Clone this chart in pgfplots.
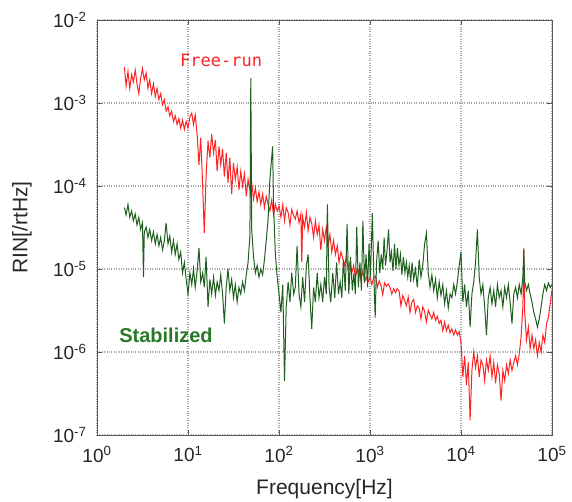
\documentclass[border=0pt]{standalone}
\usepackage{pgfplots}
\pgfplotsset{compat=1.18}
\usepackage{pgfplotstable}
\usepackage{fontspec}
\setmainfont{Liberation Sans}
\newfontfamily\monofont{DejaVu Sans Mono}
\definecolor{myred}{RGB}{255,35,35}
\definecolor{mygreen}{RGB}{30,95,30}
\definecolor{labgreen}{RGB}{40,120,40}
\definecolor{gridgray}{RGB}{165,165,165}

\pgfplotstableread{
f v
2.00 2.7e-3
2.09 1.6e-3
2.19 2.4e-3
2.29 1.5e-3
2.40 2.2e-3
2.51 1.8e-3
2.63 2.5e-3
2.75 1.7e-3
2.88 1.3e-3
3.02 2.0e-3
3.16 2.6e-3
3.31 1.9e-3
3.47 2.3e-3
3.63 1.5e-3
3.80 1.9e-3
3.98 1.3e-3
4.17 1.7e-3
4.37 1.2e-3
4.57 1.5e-3
4.79 1.1e-3
5.01 1.3e-3
5.25 9.5e-4
5.50 1.1e-3
5.75 8.0e-4
6.03 9.0e-4
6.31 7.0e-4
6.61 8.0e-4
6.92 6.0e-4
7.24 7.0e-4
7.59 5.5e-4
7.94 6.5e-4
8.32 5.0e-4
8.71 6.2e-4
9.12 4.8e-4
9.55 6.0e-4
10.0 5.0e-4
10.5 6.8e-4
11.0 7.6e-4
11.5 5.5e-4
12.0 7.2e-4
12.6 4.2e-4
13.2 1.8e-4
13.8 3.8e-4
14.5 1.0e-4
15.1 2.7e-5
15.8 1.3e-4
16.6 3.5e-4
17.4 2.2e-4
18.2 4.2e-4
19.1 2.5e-4
20.0 3.6e-4
20.9 1.5e-4
21.9 3.0e-4
22.9 1.8e-4
24.0 2.8e-4
25.1 1.3e-4
26.3 2.5e-4
27.5 1.1e-4
28.8 2.2e-4
30.2 8.0e-5
31.6 1.9e-4
33.1 1.2e-4
34.7 1.7e-4
36.3 9.0e-5
38.0 1.5e-4
39.8 1.0e-4
41.7 1.4e-4
43.7 7.5e-5
45.7 1.2e-4
47.9 9.0e-5
50.1 1.1e-4
52.5 7.0e-5
55.0 9.5e-5
57.5 6.5e-5
60.3 8.5e-5
63.1 6.0e-5
66.1 8.0e-5
69.2 5.5e-5
72.4 7.5e-5
75.9 6.0e-5
79.4 5.0e-5
83.2 6.8e-5
87.1 4.5e-5
91.2 6.0e-5
95.5 5.0e-5
100 5.8e-5
105 4.2e-5
110 6.0e-5
115 3.8e-5
120 5.5e-5
126 4.8e-5
132 3.4e-5
138 5.2e-5
145 4.4e-5
151 4.0e-5
158 5.0e-5
166 3.6e-5
174 4.6e-5
178 1.2e-5
182 4.2e-5
191 3.2e-5
200 4.8e-5
209 2.9e-5
219 4.2e-5
229 3.5e-5
240 2.4e-5
251 3.8e-5
263 2.6e-5
275 3.4e-5
288 1.7e-5
302 3.0e-5
316 2.2e-5
331 3.2e-5
347 1.9e-5
363 2.6e-5
380 1.6e-5
398 2.2e-5
417 1.5e-5
437 1.9e-5
457 1.2e-5
479 1.6e-5
501 1.35e-5
525 1.1e-5
550 1.4e-5
575 1.0e-5
603 1.2e-5
631 9.0e-6
661 1.1e-5
692 8.0e-6
724 1.0e-5
759 9.0e-6
794 7.5e-6
832 9.5e-6
871 7.0e-6
912 8.0e-6
955 7.0e-6
1000 8.0e-6
1047 6.5e-6
1096 7.8e-6
1148 8.2e-6
1202 6.0e-6
1259 7.2e-6
1318 6.4e-6
1380 4.9e-6
1445 6.8e-6
1514 6.2e-6
1585 6.6e-6
1660 6.0e-6
1738 5.0e-6
1820 5.8e-6
1905 5.2e-6
1995 5.8e-6
2089 5.4e-6
2188 3.6e-6
2291 4.8e-6
2399 4.2e-6
2512 3.6e-6
2630 4.6e-6
2754 3.0e-6
2884 4.0e-6
3020 4.3e-6
3162 3.0e-6
3311 3.6e-6
3467 3.4e-6
3631 2.5e-6
3802 3.5e-6
3981 3.1e-6
4169 2.3e-6
4365 3.2e-6
4571 2.8e-6
4786 2.5e-6
5012 3.0e-6
5248 2.4e-6
5495 2.7e-6
5754 2.2e-6
6026 2.4e-6
6310 1.8e-6
6607 2.3e-6
6918 1.8e-6
7244 2.1e-6
7586 1.7e-6
7943 1.9e-6
8318 1.6e-6
8710 1.85e-6
9120 1.6e-6
9550 1.75e-6
10000 1.3e-6
10470 5.0e-7
10960 9.0e-7
11480 4.0e-7
12020 7.5e-7
12590 1.5e-7
13180 6.0e-7
13800 1.0e-6
14450 6.5e-7
15140 9.0e-7
15850 5.0e-7
16600 8.0e-7
17380 7.0e-7
18200 4.5e-7
19050 8.0e-7
19950 6.0e-7
20890 9.0e-7
21880 5.0e-7
22910 7.5e-7
23990 4.2e-7
25120 7.0e-7
26300 5.5e-7
27540 2.6e-7
28840 6.0e-7
30200 4.5e-7
31620 7.0e-7
33110 5.5e-7
34670 8.0e-7
36310 6.0e-7
38020 7.5e-7
39810 9.0e-7
41690 7.0e-7
43650 9.5e-7
45710 1.5e-6
47860 3.5e-6
48980 1.8e-5
50120 3.0e-6
52480 1.4e-6
54950 2.0e-6
57540 1.1e-6
60260 1.6e-6
63100 1.1e-6
66070 1.4e-6
69180 9.0e-7
72440 1.3e-6
75860 1.0e-6
79430 1.6e-6
83180 1.3e-6
87100 2.2e-6
91200 2.6e-6
95500 3.8e-6
100000 5.6e-6
}\freerun

\pgfplotstableread{
f v
2.00 5.5e-5
2.09 4.5e-5
2.19 6.0e-5
2.29 4.2e-5
2.40 5.0e-5
2.51 3.8e-5
2.63 4.6e-5
2.75 3.4e-5
2.88 4.2e-5
3.02 3.0e-5
3.16 3.6e-5
3.24 8.0e-6
3.31 2.8e-5
3.47 3.2e-5
3.63 2.4e-5
3.80 3.0e-5
3.98 2.2e-5
4.17 2.8e-5
4.37 2.0e-5
4.57 2.6e-5
4.79 1.9e-5
5.01 2.4e-5
5.25 1.7e-5
5.50 2.2e-5
5.75 3.6e-5
6.03 2.0e-5
6.31 2.5e-5
6.61 1.6e-5
6.92 2.2e-5
7.24 1.5e-5
7.59 2.0e-5
7.94 1.3e-5
8.32 1.6e-5
8.71 9.0e-6
9.12 1.2e-5
9.55 7.5e-6
10.0 5.0e-6
10.5 9.0e-6
11.0 6.5e-6
11.5 1.0e-5
12.0 6.0e-6
12.6 9.5e-6
13.2 1.8e-5
13.8 7.0e-6
14.5 9.0e-6
15.1 6.0e-6
15.8 1.4e-5
16.6 3.5e-6
17.4 7.5e-6
18.2 5.0e-6
19.1 8.0e-6
20.0 4.8e-6
20.9 7.0e-6
21.9 5.5e-6
22.9 8.5e-6
24.0 5.0e-6
25.1 2.2e-6
26.3 6.0e-6
27.5 1.0e-5
28.8 5.5e-6
30.2 7.5e-6
31.6 4.5e-6
33.1 6.5e-6
34.7 4.0e-6
36.3 6.0e-6
38.0 5.0e-6
39.8 7.0e-6
41.7 5.5e-6
43.7 8.5e-6
45.7 1.2e-5
47.9 2.5e-5
49.0 2.0e-3
50.1 3.0e-5
52.5 1.4e-5
55.0 9.0e-6
57.5 1.1e-5
60.3 8.0e-6
63.1 1.0e-5
66.1 8.5e-6
69.2 1.3e-5
72.4 2.2e-5
75.9 4.0e-5
79.4 1.2e-4
85.1 3.0e-4
87.1 6.0e-5
91.2 1.5e-5
95.5 8.0e-6
100 5.0e-6
105 3.0e-6
110 6.5e-6
115 4.5e-7
120 3.5e-6
126 7.0e-6
132 4.0e-6
138 9.0e-6
145 5.0e-6
151 6.0e-6
158 1.9e-5
166 5.0e-6
174 3.5e-6
182 8.0e-6
191 4.0e-6
200 1.1e-5
209 1.5e-5
219 4.5e-6
229 1.9e-6
240 6.0e-6
251 4.0e-6
263 9.0e-6
275 4.5e-6
288 6.5e-6
302 4.0e-6
316 8.0e-6
331 5.0e-6
340 6.0e-5
355 6.0e-6
370 4.0e-6
390 9.0e-6
410 4.5e-6
430 1.2e-5
450 5.0e-6
470 7.0e-6
490 4.5e-6
510 1.3e-5
535 5.5e-6
560 3.5e-5
585 5.0e-6
610 1.4e-5
640 5.5e-6
665 9.0e-6
690 5.0e-6
715 3.2e-5
745 6.0e-6
775 1.2e-5
805 5.5e-6
835 3.8e-5
870 7.0e-6
905 1.5e-5
940 6.0e-6
975 2.0e-5
1010 8.0e-6
1060 4.7e-5
1100 9.0e-6
1140 2.6e-6
1180 1.2e-5
1230 2.2e-5
1280 9.0e-6
1330 1.5e-5
1380 1.0e-5
1430 2.4e-5
1480 1.1e-5
1540 1.7e-5
1600 3.0e-5
1660 1.2e-5
1720 1.6e-5
1790 9.5e-6
1860 2.0e-5
1930 1.0e-5
2000 1.8e-5
2080 1.1e-5
2160 1.5e-5
2240 8.5e-6
2330 1.4e-5
2420 9.0e-6
2510 1.2e-5
2600 8.0e-6
2700 1.1e-5
2800 7.0e-6
2900 1.2e-5
3020 7.5e-6
3160 1.0e-5
3310 6.0e-6
3470 1.3e-5
3630 8.0e-6
3800 1.1e-5
3980 2.0e-5
4170 2.7e-5
4365 9.0e-6
4571 6.0e-6
4786 8.5e-6
5012 5.5e-6
5248 7.5e-6
5495 4.5e-6
5754 7.0e-6
6026 4.8e-6
6310 6.5e-6
6607 3.8e-6
6918 5.5e-6
7244 3.4e-6
7586 5.0e-6
7943 4.5e-6
8318 6.5e-6
8710 5.0e-6
9120 7.0e-6
9550 1.1e-5
10000 1.6e-5
10470 4.0e-6
10960 6.5e-6
11480 3.5e-6
12020 5.5e-6
12590 2.0e-6
13180 5.0e-6
13800 7.0e-6
14450 1.2e-5
15140 3.0e-5
15850 8.0e-6
16600 5.0e-6
17380 6.5e-6
18200 3.5e-6
19050 1.6e-6
19950 4.5e-6
20890 6.0e-6
21880 3.8e-6
22910 5.5e-6
23990 3.5e-6
25120 6.5e-6
26300 4.5e-6
27540 5.5e-6
28840 3.5e-6
30200 6.0e-6
31620 4.5e-6
33110 6.5e-6
34670 4.0e-6
36310 2.2e-6
38020 5.0e-6
39810 6.0e-6
41690 4.5e-6
43650 6.5e-6
45710 5.0e-6
47860 8.0e-6
48980 1.7e-5
50120 7.0e-6
52480 5.5e-6
54950 6.5e-6
57540 5.0e-6
60260 4.0e-6
63100 3.0e-6
66070 2.5e-6
69180 2.0e-6
72440 2.5e-6
75860 3.5e-6
79430 5.0e-6
83180 6.5e-6
87100 5.5e-6
91200 6.8e-6
95500 6.0e-6
100000 6.5e-6
}\stabilized

\begin{document}
\begin{tikzpicture}
\begin{axis}[
  xmode=log, ymode=log,
  scale only axis, width=455pt, height=415pt,
  xmin=1, xmax=1e5, ymin=1e-7, ymax=1e-2,
  xtick={1,10,100,1000,10000,100000},
  xticklabels={10\textsuperscript{0},10\textsuperscript{1},10\textsuperscript{2},10\textsuperscript{3},10\textsuperscript{4},10\textsuperscript{5}},
  ytick={1e-7,1e-6,1e-5,1e-4,1e-3,1e-2},
  yticklabels={10\textsuperscript{-7},10\textsuperscript{-6},10\textsuperscript{-5},10\textsuperscript{-4},10\textsuperscript{-3},10\textsuperscript{-2}},
  xminorticks=false, yminorticks=false,
  grid=major,
  major grid style={gridgray, dotted, line width=1.2pt},
  axis line style={black!65, line width=0.9pt},
  tick style={black!65, line width=0.9pt},
  tick align=inside, major tick length=5pt,
  ticklabel style={font=\fontsize{19}{19}\selectfont, text=black!85},
  xticklabel style={yshift=-8pt},
  yticklabel style={xshift=-7pt},
  xlabel={Frequency[Hz]}, ylabel={RIN[/rtHz]},
  label style={font=\fontsize{21}{21}\selectfont, text=black!85},
  xlabel style={at={(axis description cs:0.5,0)}, anchor=center, yshift=-54pt},
  ylabel style={at={(axis description cs:0,0.5)}, anchor=center, yshift=75pt},
]
\addplot[myred, line width=1pt] table[x=f, y=v] {\freerun};
\addplot[mygreen, line width=1pt] table[x=f, y=v] {\stabilized};
\node[text=myred, font=\monofont\fontsize{17}{17}\selectfont] at (axis cs:23.1,3.3e-3) {Free-run};
\node[text=labgreen, font=\bfseries\fontsize{20}{20}\selectfont] at (axis cs:5.73,1.6e-6) {Stabilized};
\end{axis}
\pgfresetboundingbox
\path[use as bounding box] (-97pt,-67pt) rectangle (475pt,435pt);
\end{tikzpicture}
\end{document}
